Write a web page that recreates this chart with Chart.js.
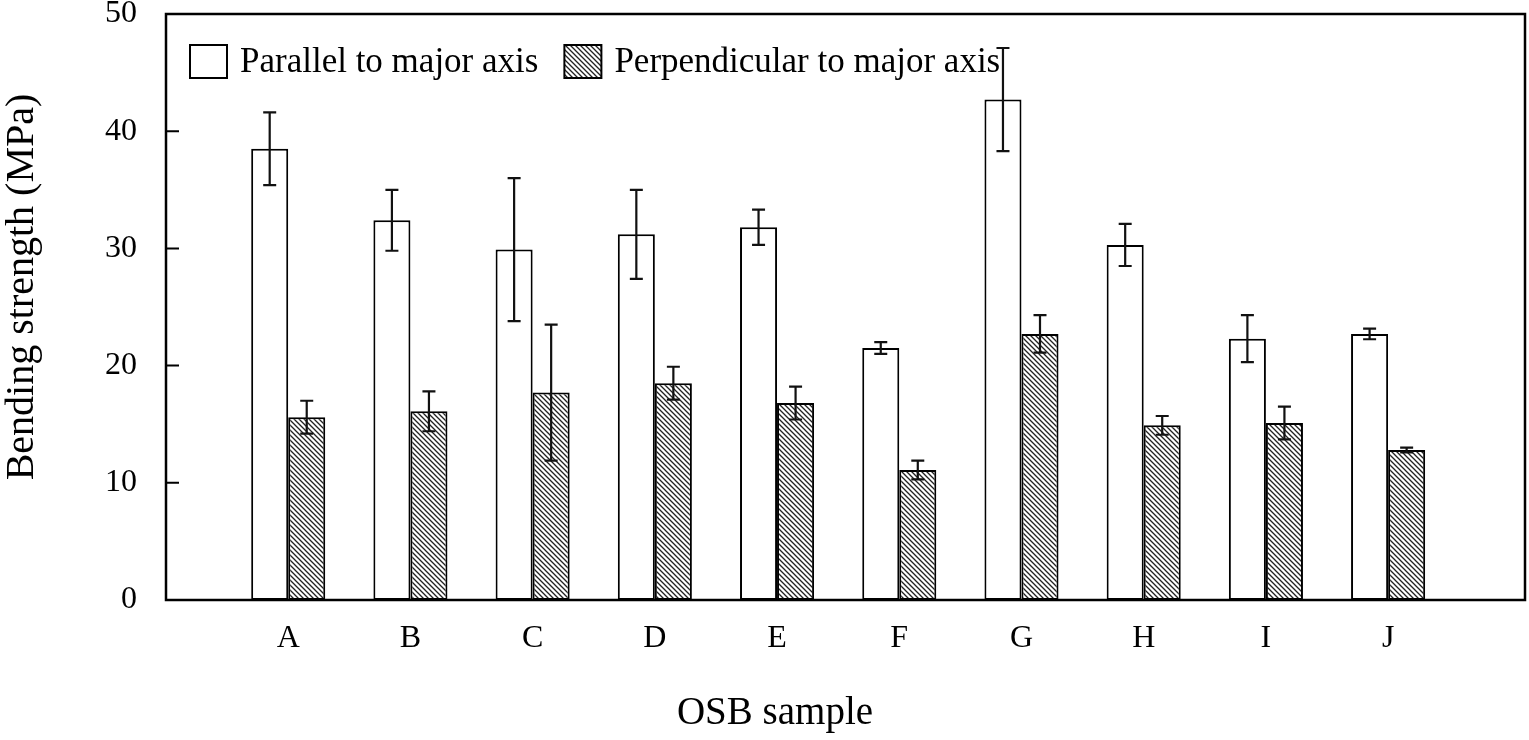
<!DOCTYPE html>
<html>
<head>
<meta charset="utf-8">
<script src="https://cdn.jsdelivr.net/npm/chart.js@4/dist/chart.umd.min.js"></script>
<style>
  html, body { margin: 0; padding: 0; background: #fff; }
  .chart-container { width: 1529px; height: 740px; position: relative; }
</style>
</head>
<body>
<div class="chart-container"><canvas id="chart"></canvas></div>
<script>
// values
const categories = ['A', 'B', 'C', 'D', 'E', 'F', 'G', 'H', 'I', 'J'];
const seriesNames = ['Parallel to major axis', 'Perpendicular to major axis'];
const parallel = [38.5, 32.4, 29.9, 31.2, 31.8, 21.5, 42.7, 30.3, 22.3, 22.7];
const parallelErr = [3.1, 2.6, 6.1, 3.8, 1.5, 0.5, 4.4, 1.8, 2.0, 0.45];
const perpendicular = [15.6, 16.1, 17.7, 18.5, 16.8, 11.1, 22.7, 14.9, 15.1, 12.8];
const perpendicularErr = [1.4, 1.7, 5.8, 1.4, 1.4, 0.8, 1.6, 0.8, 1.4, 0.2];
const yTicks = [0, 10, 20, 30, 40, 50];
const xTitle = 'OSB sample';
const yTitle = 'Bending strength (MPa)';

const serif = '"Liberation Serif", "Times New Roman", serif';

// diagonal hatch for the second series
function makeHatch() {
  const c = document.createElement('canvas');
  c.width = 5; c.height = 5;
  const g = c.getContext('2d');
  g.fillStyle = '#fff';
  g.fillRect(0, 0, 5, 5);
  g.strokeStyle = '#222';
  g.lineWidth = 1.3;
  g.beginPath();
  g.moveTo(-1, -1); g.lineTo(6, 6);
  g.moveTo(-1, 4); g.lineTo(1, 6);
  g.moveTo(4, -1); g.lineTo(6, 1);
  g.stroke();
  return g.createPattern(c, 'repeat');
}
const hatch = makeHatch();

const toPoints = arr => arr.map((v, i) => ({ x: i + 1, y: v }));

const errorBars = {
  id: 'errorBars',
  afterDatasetsDraw(chart) {
    const ctx = chart.ctx;
    const y = chart.scales.y;
    ctx.save();
    ctx.strokeStyle = '#111';
    ctx.lineWidth = 2.2;
    chart.data.datasets.forEach((ds, i) => {
      const meta = chart.getDatasetMeta(i);
      meta.data.forEach((bar, j) => {
        const v = ds.data[j].y, e = ds.errors[j];
        const top = y.getPixelForValue(v + e);
        const bot = y.getPixelForValue(v - e);
        ctx.beginPath();
        ctx.moveTo(bar.x, top); ctx.lineTo(bar.x, bot);
        ctx.moveTo(bar.x - 6.5, top); ctx.lineTo(bar.x + 6.5, top);
        ctx.moveTo(bar.x - 6.5, bot); ctx.lineTo(bar.x + 6.5, bot);
        ctx.stroke();
      });
    });
    ctx.restore();
  }
};

const frameAndLegend = {
  id: 'frameAndLegend',
  afterDraw(chart) {
    const ctx = chart.ctx;
    const a = chart.chartArea;
    const y = chart.scales.y;
    ctx.save();
    // frame
    ctx.strokeStyle = '#000';
    ctx.lineWidth = 2.5;
    ctx.strokeRect(a.left, a.top, a.right - a.left, a.bottom - a.top);
    // inward ticks on y axis
    ctx.lineWidth = 2;
    ctx.beginPath();
    yTicks.forEach(t => {
      const py = y.getPixelForValue(t);
      ctx.moveTo(a.left, py); ctx.lineTo(a.left + 13, py);
    });
    ctx.stroke();
    // legend inside the plot
    ctx.font = '35px ' + serif;
    ctx.textBaseline = 'middle';
    let x = a.left + 24;
    const boxY = a.top + 31;
    chart.data.datasets.forEach(ds => {
      ctx.fillStyle = ds.backgroundColor;
      ctx.fillRect(x, boxY, 37, 33);
      ctx.lineWidth = 2;
      ctx.strokeStyle = '#000';
      ctx.strokeRect(x, boxY, 37, 33);
      ctx.fillStyle = '#000';
      ctx.fillText(ds.label, x + 50, boxY + 18);
      x += 50 + ctx.measureText(ds.label).width + 26;
    });
    // axis titles (slightly left / above of the plot centre, as in the figure)
    ctx.fillStyle = '#000';
    ctx.textAlign = 'center';
    ctx.font = '39px ' + serif;
    ctx.fillText(xTitle, 775, 714);
    ctx.translate(22, 287);
    ctx.rotate(-Math.PI / 2);
    ctx.font = '40px ' + serif;
    ctx.fillText(yTitle, 0, 0);
    ctx.restore();
  }
};

new Chart(document.getElementById('chart'), {
  type: 'bar',
  data: {
    datasets: [
      {
        label: seriesNames[0],
        data: toPoints(parallel),
        errors: parallelErr,
        backgroundColor: '#fff',
        borderColor: '#000',
        borderWidth: 2,
        borderSkipped: false
      },
      {
        label: seriesNames[1],
        data: toPoints(perpendicular),
        errors: perpendicularErr,
        backgroundColor: hatch,
        borderColor: '#000',
        borderWidth: 2,
        borderSkipped: false
      }
    ]
  },
  options: {
    responsive: true,
    maintainAspectRatio: false,
    animation: false,
    devicePixelRatio: 1,
    categoryPercentage: 0.606,
    barPercentage: 1.0,
    layout: { padding: { top: 0, right: 4, left: 105, bottom: 82.6 } },
    plugins: {
      legend: { display: false },
      tooltip: { enabled: false }
    },
    scales: {
      x: {
        type: 'linear',
        offset: false,
        min: 0,
        max: 11.12,
        grid: { display: false, drawTicks: true, tickLength: 19 },
        border: { display: false },
        ticks: {
          stepSize: 1,
          autoSkip: false,
          maxRotation: 0,
          padding: 0,
          color: '#000',
          font: { family: serif, size: 32 },
          callback: v => Number.isInteger(v) && categories[v - 1] ? categories[v - 1] : ''
        }
      },
      y: {
        min: 0,
        max: 50,
        grid: { display: false, drawTicks: true, tickLength: 29 },
        border: { display: false },
        ticks: {
          stepSize: 10,
          padding: 0,
          color: '#000',
          font: { family: serif, size: 32, lineHeight: 0.875 }
        }
      }
    }
  },
  plugins: [errorBars, frameAndLegend]
});
</script>
</body>
</html>
